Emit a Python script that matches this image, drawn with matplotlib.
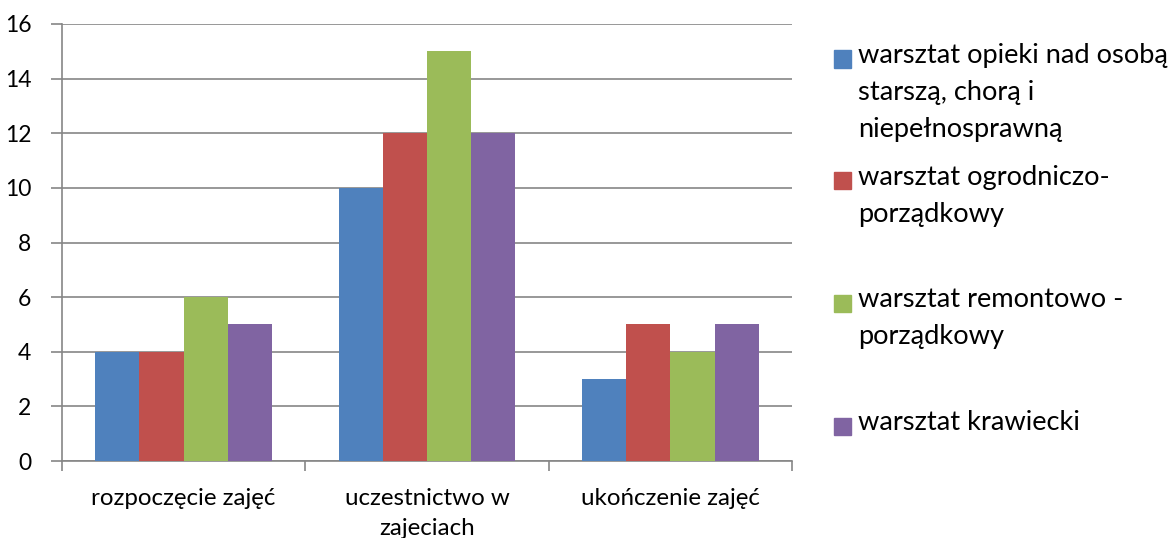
import matplotlib.pyplot as plt
import numpy as np
from matplotlib.patches import Rectangle

plt.rcParams['font.family'] = ['Lato', 'DejaVu Sans']

categories = ['rozpoczęcie zajęć', 'uczestnictwo w\nzajeciach', 'ukończenie zajęć']
series_names = ['warsztat opieki nad osobą\nstarszą, chorą i\nniepełnosprawną',
                'warsztat ogrodniczo-\nporządkowy',
                'warsztat remontowo -\nporządkowy',
                'warsztat krawiecki']
opieka = [4, 10, 3]
ogrod = [4, 12, 5]
remont = [6, 15, 4]
krawiec = [5, 12, 5]
colors = ['#4f81bd', '#c0504d', '#9bbb59', '#8064a2']

values = [opieka, ogrod, remont, krawiec]

fig = plt.figure(figsize=(11.72, 5.38), dpi=100)
ax = fig.add_axes([62/1172, 1-461/538, 730/1172, 437/538])

x = np.arange(len(categories))
w = 1 / 5.5
for i, v in enumerate(values):
    ax.bar(x + (i - 1.5) * w, v, width=w, color=colors[i], zorder=3)

grid_c = '#868686'
ax.set_xlim(-0.5, 2.5)
ax.set_ylim(0, 16)
ax.set_yticks(range(0, 17, 2))
ax.yaxis.grid(True, color=grid_c, linewidth=1.2, zorder=0)
for s in ['top', 'right']:
    ax.spines[s].set_visible(False)
for s in ['left', 'bottom']:
    ax.spines[s].set_color(grid_c)
    ax.spines[s].set_linewidth(1.2)

ax.set_xticks([-0.5, 0.5, 1.5, 2.5])
ax.set_xticklabels([])
ax.set_xticks(x, minor=True)
ax.set_xticklabels(categories, minor=True, fontsize=17.4, linespacing=1.52)
ax.tick_params(axis='x', which='major', length=7, width=1.2, color=grid_c)
ax.tick_params(axis='x', which='minor', length=0, pad=19.5)
ax.tick_params(axis='y', length=8, width=1.2, color=grid_c, labelsize=16.5, pad=14)

# legend
sq = 17
ys = [59, 181, 303, 426]
for i, name in enumerate(series_names):
    fig.patches.append(Rectangle((834/1172, 1-(ys[i]+sq/2)/538), sq/1172, sq/538,
                                 transform=fig.transFigure, color=colors[i]))
    fig.text(858/1172, 1-(ys[i]-16)/538, name, fontsize=19.6, va='top', ha='left',
             linespacing=1.6)

fig.savefig('out.png', dpi=100)
